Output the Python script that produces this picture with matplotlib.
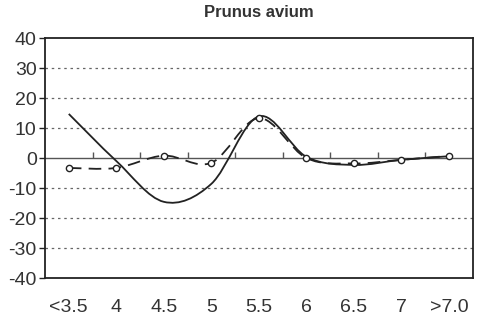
import numpy as np
import matplotlib
matplotlib.use("Agg")
import matplotlib.pyplot as plt
from matplotlib.path import Path
from matplotlib.patches import PathPatch

categories = ["<3.5", "4", "4.5", "5", "5.5", "6", "6.5", "7", ">7.0"]
solid_vals = [14.7, -1.0, -14.6, -8.6, 13.9, 0.4, -2.3, -0.6, 0.6]
dashed_vals = [-3.3, -3.3, 0.8, -1.6, 13.3, 0.0, -1.8, -0.6, 0.7]
yticks = [-40, -30, -20, -10, 0, 10, 20, 30, 40]

INK = "#222222"


def smooth_path(xs, ys):
    """Catmull-Rom as cubic Bezier segments (Excel-like smoothed line)."""
    pts = np.column_stack([xs, ys]).astype(float)
    verts = [pts[0]]
    codes = [Path.MOVETO]
    n = len(pts)
    for i in range(n - 1):
        p0 = pts[max(i - 1, 0)]
        p1 = pts[i]
        p2 = pts[i + 1]
        p3 = pts[min(i + 2, n - 1)]
        c1 = p1 + (p2 - p0) / 6.0
        c2 = p2 - (p3 - p1) / 6.0
        verts += [c1, c2, p2]
        codes += [Path.CURVE4] * 3
    return Path(verts, codes)


plt.rcParams['font.family'] = ['Liberation Sans', 'DejaVu Sans']
fig = plt.figure(figsize=(4.79, 3.17), dpi=100)
ax = fig.add_axes([0.094, 0.123, 0.893, 0.757])

x = np.arange(len(categories))

# grid + zero line
for v in yticks[1:-1]:
    if v == 0:
        ax.axhline(0, color="#555555", lw=1.0, zorder=1)
    else:
        ax.axhline(v, color="#666666", lw=0.9, ls=(0, (2, 3)), zorder=1)
# category boundary ticks on the zero line
ax.vlines(x[:-1] + 0.5, 0, 2, color="#555555", lw=1.0, zorder=1)

ax.add_patch(PathPatch(smooth_path(x, solid_vals), fill=False,
                       edgecolor=INK, lw=1.3, zorder=3))
ax.add_patch(PathPatch(smooth_path(x, dashed_vals), fill=False,
                       edgecolor=INK, lw=1.3, ls=(0, (7, 4)), zorder=3))
ax.plot(x, dashed_vals, ls="none", marker="o", ms=4.5, mfc="white",
        mec=INK, mew=1.0, zorder=4)

ax.set_xlim(-0.5, len(categories) - 0.5)
ax.set_ylim(-40, 40)
ax.set_yticks(yticks)
ax.set_yticklabels([str(v) for v in yticks], fontsize=14, color="#333333")
ax.set_xticks(x)
ax.set_xticklabels(categories, fontsize=14, color="#333333")
ax.tick_params(axis="x", length=0, pad=15)
ax.tick_params(axis="y", length=4, width=1.0, color=INK, pad=2)
for s in ax.spines.values():
    s.set_color(INK)
    s.set_linewidth(1.3)

ax.set_title("Prunus avium", fontsize=12, fontweight="bold", color="#333333",
             pad=15)

fig.savefig("out.png", dpi=100)
